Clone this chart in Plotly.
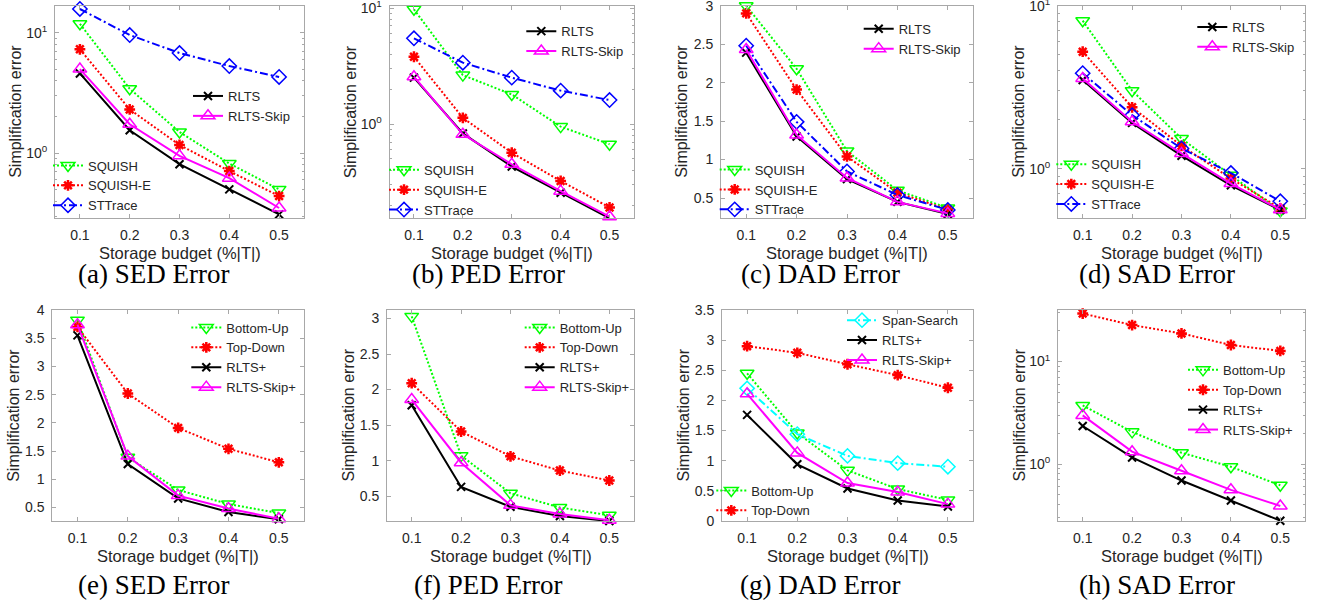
import plotly.graph_objects as go
from plotly.subplots import make_subplots

W, H = 1317, 601

budget = [0.1, 0.2, 0.3, 0.4, 0.5]
budget_ticks = ["0.1", "0.2", "0.3", "0.4", "0.5"]

# (a) SED error
sed_rlts = [4.6, 1.55, 0.81, 0.50, 0.31]
sed_rlts_skip = [5.0, 1.74, 0.95, 0.62, 0.35]
sed_squish = [11.9, 3.43, 1.50, 0.82, 0.50]
sed_squish_e = [7.3, 2.31, 1.17, 0.71, 0.44]
sed_sttrace = [15.8, 9.6, 6.8, 5.3, 4.3]

# (b) PED error
ped_rlts = [2.51, 0.83, 0.43, 0.256, 0.154]
ped_rlts_skip = [2.56, 0.815, 0.45, 0.264, 0.159]
ped_squish = [9.75, 2.64, 1.80, 0.95, 0.67]
ped_squish_e = [3.80, 1.13, 0.566, 0.323, 0.191]
ped_sttrace = [5.48, 3.38, 2.51, 1.94, 1.61]

# (c) DAD error
dad_rlts = [2.39, 1.30, 0.745, 0.45, 0.29]
dad_rlts_skip = [2.43, 1.32, 0.76, 0.45, 0.30]
dad_squish = [3.0, 2.18, 1.11, 0.60, 0.37]
dad_squish_e = [2.9, 1.91, 1.04, 0.57, 0.35]
dad_sttrace = [2.48, 1.49, 0.845, 0.54, 0.345]

# (d) SAD error
sad_rlts = [3.50, 1.91, 1.20, 0.79, 0.557]
sad_rlts_skip = [3.58, 1.94, 1.24, 0.81, 0.56]
sad_squish = [8.09, 3.01, 1.53, 0.91, 0.55]
sad_squish_e = [5.22, 2.38, 1.38, 0.87, 0.57]
sad_sttrace = [3.85, 2.13, 1.33, 0.94, 0.63]

# (e) SED error, offline
sed_bottom_up = [3.82, 1.39, 0.81, 0.56, 0.40]
sed_top_down = [3.70, 2.52, 1.91, 1.54, 1.30]
sed_rlts_plus = [3.55, 1.27, 0.66, 0.42, 0.29]
sed_rlts_skip_plus = [3.74, 1.41, 0.71, 0.48, 0.30]

# (f) PED error, offline
ped_bottom_up = [3.03, 1.07, 0.54, 0.34, 0.23]
ped_top_down = [2.09, 1.41, 1.06, 0.86, 0.72]
ped_rlts_plus = [1.78, 0.63, 0.35, 0.22, 0.15]
ped_rlts_skip_plus = [1.86, 0.97, 0.37, 0.25, 0.16]

# (g) DAD error, offline
dad_span_search = [2.2, 1.44, 1.08, 0.96, 0.90]
dad_bottom_up = [2.45, 1.46, 0.84, 0.53, 0.35]
dad_top_down = [2.9, 2.79, 2.6, 2.42, 2.21]
dad_rlts_plus = [1.76, 0.94, 0.54, 0.34, 0.24]
dad_rlts_skip_plus = [2.11, 1.13, 0.63, 0.48, 0.28]

# (h) SAD error, offline
sad_bottom_up = [3.73, 2.06, 1.29, 0.94, 0.62]
sad_top_down = [29.4, 22.7, 18.8, 14.5, 12.7]
sad_rlts_plus = [2.35, 1.16, 0.69, 0.44, 0.28]
sad_rlts_skip_plus = [2.98, 1.32, 0.86, 0.56, 0.39]

captions = ["(a) SED Error", "(b) PED Error", "(c) DAD Error", "(d) SAD Error",
            "(e) SED Error", "(f) PED Error", "(g) DAD Error", "(h) SAD Error"]

STYLE = {
    "RLTS": dict(color="#000000", dash="solid", symbol="x-thin-open", size=8, mlw=2),
    "RLTS-Skip": dict(color="#ff00ff", dash="solid", symbol="triangle-up-open", size=12, mlw=1.5),
    "SQUISH": dict(color="#00ff00", dash="2px,2px", symbol="triangle-down-open", size=12, mlw=1.5),
    "SQUISH-E": dict(color="#ff0000", dash="2px,2px", symbol="asterisk-open", size=9, mlw=2.5),
    "STTrace": dict(color="#0000ff", dash="8px,3px,2px,3px", symbol="diamond-open", size=11, mlw=1.5),
    "Span-Search": dict(color="#00ffff", dash="8px,3px,2px,3px", symbol="diamond-open", size=11, mlw=1.5),
}
STYLE["RLTS+"] = STYLE["RLTS"]
STYLE["RLTS-Skip+"] = STYLE["RLTS-Skip"]
STYLE["Bottom-Up"] = STYLE["SQUISH"]
STYLE["Top-Down"] = STYLE["SQUISH-E"]

# panel -> list of (name, values, legend id)
panels = [
    [("SQUISH", sed_squish, 2), ("SQUISH-E", sed_squish_e, 2), ("STTrace", sed_sttrace, 2),
     ("RLTS", sed_rlts, 1), ("RLTS-Skip", sed_rlts_skip, 1)],
    [("SQUISH", ped_squish, 4), ("SQUISH-E", ped_squish_e, 4), ("STTrace", ped_sttrace, 4),
     ("RLTS", ped_rlts, 3), ("RLTS-Skip", ped_rlts_skip, 3)],
    [("SQUISH", dad_squish, 6), ("SQUISH-E", dad_squish_e, 6), ("STTrace", dad_sttrace, 6),
     ("RLTS", dad_rlts, 5), ("RLTS-Skip", dad_rlts_skip, 5)],
    [("SQUISH", sad_squish, 8), ("SQUISH-E", sad_squish_e, 8), ("STTrace", sad_sttrace, 8),
     ("RLTS", sad_rlts, 7), ("RLTS-Skip", sad_rlts_skip, 7)],
    [("Bottom-Up", sed_bottom_up, 9), ("Top-Down", sed_top_down, 9),
     ("RLTS+", sed_rlts_plus, 9), ("RLTS-Skip+", sed_rlts_skip_plus, 9)],
    [("Bottom-Up", ped_bottom_up, 10), ("Top-Down", ped_top_down, 10),
     ("RLTS+", ped_rlts_plus, 10), ("RLTS-Skip+", ped_rlts_skip_plus, 10)],
    [("Bottom-Up", dad_bottom_up, 12), ("Top-Down", dad_top_down, 12),
     ("Span-Search", dad_span_search, 11), ("RLTS+", dad_rlts_plus, 11),
     ("RLTS-Skip+", dad_rlts_skip_plus, 11)],
    [("Bottom-Up", sad_bottom_up, 13), ("Top-Down", sad_top_down, 13),
     ("RLTS+", sad_rlts_plus, 13), ("RLTS-Skip+", sad_rlts_skip_plus, 13)],
]

# axis boxes in pixels: left, right, top, bottom
boxes = [(55, 304, 5.7, 218), (389.5, 634, 5.7, 218), (721, 973, 5.7, 218), (1058, 1305, 5.7, 218),
         (52.3, 304, 310, 521), (387, 634, 310, 521), (722, 973, 310, 521), (1058, 1305, 310, 521)]
log_axes = [True, True, False, True, False, False, False, True]
y_ranges = [[-0.539, 1.226], [-0.81, 1.02], [0.24, 3.0], [-0.303, 1.0],
            [0.26, 4.0], [0.15, 3.12], [0, 3.5], [-0.556, 1.503]]
y_ticks = [None, None, [0.5, 1, 1.5, 2, 2.5, 3], None,
           [0.5, 1, 1.5, 2, 2.5, 3, 3.5, 4], [0.5, 1, 1.5, 2, 2.5, 3],
           [0, 0.5, 1, 1.5, 2, 2.5, 3, 3.5], None]
log_minor = [m * 10.0 ** k for k in (-1, 0, 1) for m in range(2, 10)]
caption_pos = [(153.5, 274), (488.3, 274), (820.3, 274), (1156.7, 274),
               (153.7, 585), (488.3, 585), (820.3, 585), (1157, 585)]
# legend: text left x, middle y (pixels)
legend_pos = {1: (230, 106), 2: (90, 185.5), 3: (563.3, 41.2), 4: (426, 189.8),
              5: (900.7, 38.8), 6: (756.7, 189.6), 7: (1234.3, 37), 8: (1093.3, 184.2),
              9: (228.3, 357.5), 10: (561.7, 357.5), 11: (884, 340.2), 12: (753.3, 500.5),
              13: (1225, 399.9)}

AX_COLOR = "#a8a8a8"
TXT_COLOR = "#262626"

fig = make_subplots(rows=2, cols=4)

for i, series in enumerate(panels):
    row, col = i // 4 + 1, i % 4 + 1
    for name, vals, leg in series:
        st = STYLE[name]
        fig.add_trace(
            go.Scatter(
                x=budget, y=vals, name=name, mode="lines+markers",
                line=dict(color=st["color"], dash=st["dash"], width=2),
                marker=dict(symbol=st["symbol"], size=st["size"], color=st["color"],
                            line=dict(color=st["color"], width=st["mlw"])),
                legend="legend" if leg == 1 else f"legend{leg}",
                cliponaxis=False,
            ),
            row=row, col=col,
        )

axis_common = dict(
    showline=True, linecolor=AX_COLOR, linewidth=1, mirror="ticks",
    ticks="inside", ticklen=4, tickcolor=AX_COLOR, showgrid=False, zeroline=False,
    tickfont=dict(family="Liberation Sans", size=14, color=TXT_COLOR),
    ticklabelstandoff=4, automargin=False, ticklabeloverflow="allow",
)

annotations = []
for i in range(8):
    n = i + 1
    l, r, t, b = boxes[i]
    xa = "xaxis" if n == 1 else f"xaxis{n}"
    ya = "yaxis" if n == 1 else f"yaxis{n}"
    fig.layout[xa].update(
        domain=[l / W, r / W], range=[0.05, 0.55],
        tickvals=budget, ticktext=budget_ticks, **axis_common,
    )
    if log_axes[i]:
        fig.layout[ya].update(
            domain=[1 - b / H, 1 - t / H], type="log", range=y_ranges[i],
            tickvals=[1, 10], ticktext=["10<sup>0</sup>", "10<sup>1</sup>"],
            minor=dict(tickmode="array", tickvals=log_minor, ticks="inside", ticklen=2,
                       tickcolor=AX_COLOR, showgrid=False),
            **axis_common,
        )
    else:
        fig.layout[ya].update(
            domain=[1 - b / H, 1 - t / H], range=y_ranges[i],
            tickvals=y_ticks[i], ticktext=[f"{v:g}" for v in y_ticks[i]],
            **axis_common,
        )
    xref = "x domain" if n == 1 else f"x{n} domain"
    yref = "y domain" if n == 1 else f"y{n} domain"
    annotations.append(dict(
        text="Simplification error", xref=xref, yref=yref, x=0, y=0.5,
        xshift=-39, textangle=-90, showarrow=False, xanchor="center", yanchor="middle",
        font=dict(family="Liberation Sans", size=16, color=TXT_COLOR),
    ))
    annotations.append(dict(
        text="Storage budget (%|T|)", xref=xref, yref=yref, x=0.5, y=0,
        yshift=-35, showarrow=False, xanchor="center", yanchor="middle",
        font=dict(family="Liberation Sans", size=16.5, color=TXT_COLOR),
    ))
    cx, cy = caption_pos[i]
    annotations.append(dict(
        text=captions[i], xref="paper", yref="paper", x=cx / W, y=1 - cy / H,
        showarrow=False, xanchor="center", yanchor="middle",
        font=dict(family="Liberation Serif", size=27, color="#000000"),
    ))

legends = {}
for k, (tx, my) in legend_pos.items():
    key = "legend" if k == 1 else f"legend{k}"
    legends[key] = dict(
        x=(tx - 42) / W, y=1 - my / H, xanchor="left", yanchor="middle",
        bgcolor="rgba(0,0,0,0)", borderwidth=0,
        font=dict(family="Liberation Sans", size=13, color=TXT_COLOR),
        itemwidth=30, tracegroupgap=0,
    )

fig.update_layout(
    width=W, height=H,
    margin=dict(l=0, r=0, t=0, b=0, autoexpand=False),
    paper_bgcolor="white", plot_bgcolor="white",
    font=dict(family="Liberation Sans", color=TXT_COLOR),
    showlegend=True,
    annotations=annotations,
    **legends,
)

# drop the default 8px page margin so the figure fills the window
fig.write_html("out.html", config={"displayModeBar": False},
               post_script="document.body.style.margin = '0';")
